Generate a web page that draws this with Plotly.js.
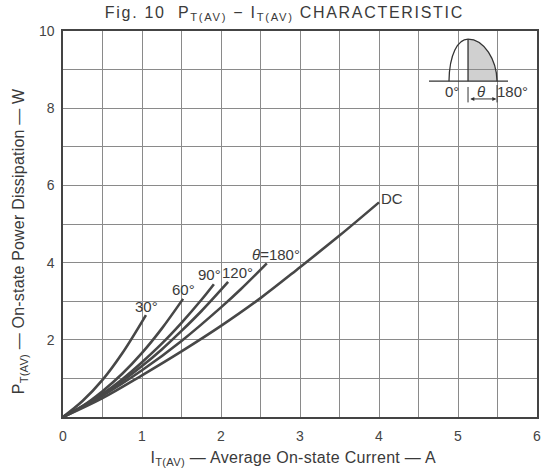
<!DOCTYPE html>
<html>
<head>
<meta charset="utf-8">
<script src="https://cdn.plot.ly/plotly-3.0.1.min.js"></script>
<style>
html,body{margin:0;padding:0;background:#fff;}
#chart{width:546px;height:474px;}
g.annotation[data-index="0"] text{letter-spacing:1.7px;}
g.annotation[data-index="1"] text{letter-spacing:0.3px;}
g.annotation[data-index="2"] text{letter-spacing:0.2px;}
</style>
</head>
<body>
<div id="chart"></div>
<script>
// ---- data ----
const seriesNames = ["30°", "60°", "90°", "120°", "θ=180°", "DC"];

const current_30  = [0, 0.25, 0.5, 0.75, 1.05];
const power_30    = [0, 0.42, 0.96, 1.65, 2.64];

const current_60  = [0, 0.25, 0.5, 0.75, 1.0, 1.25, 1.52];
const power_60    = [0, 0.29, 0.67, 1.12, 1.66, 2.29, 3.06];

const current_90  = [0, 0.25, 0.5, 0.75, 1.0, 1.25, 1.5, 1.75, 1.91];
const power_90    = [0, 0.28, 0.60, 0.98, 1.42, 1.90, 2.44, 3.03, 3.44];

const current_120 = [0, 0.25, 0.5, 0.75, 1.0, 1.25, 1.5, 1.75, 2.09];
const power_120   = [0, 0.27, 0.58, 0.93, 1.32, 1.75, 2.23, 2.74, 3.50];

const current_180 = [0, 0.5, 1.0, 1.5, 2.0, 2.25, 2.58];
const power_180   = [0, 0.55, 1.21, 1.97, 2.84, 3.31, 3.98];

const current_dc  = [0, 0.5, 1.0, 1.5, 2.0, 2.5, 3.0, 3.5, 4.0];
const power_dc    = [0, 0.49, 1.08, 1.70, 2.36, 3.08, 3.88, 4.70, 5.56];

const xTickVals = [0, 1, 2, 3, 4, 5, 6];
const xTickText = ["0", "1", "2", "3", "4", "5", "6"];
const yTickVals = [2, 4, 6, 8, 10];
const yTickText = ["2", "4", "6", "8", "10"];

// ---- chart ----
const lineColor = "#474747";
const xs = [current_30, current_60, current_90, current_120, current_180, current_dc];
const ys = [power_30, power_60, power_90, power_120, power_180, power_dc];

const traces = xs.map((x, i) => ({
  x: x, y: ys[i], type: "scatter", mode: "lines",
  name: seriesNames[i],
  line: {color: lineColor, width: 2.6, shape: "spline", smoothing: 1},
  hoverinfo: "x+y+name"
}));

const FONT = "Liberation Sans, Arial, Helvetica, sans-serif";
const txtColor = "#3a3a3a";

function label(text, x, y, opts) {
  return Object.assign({
    text: text, x: x, y: y, xref: "x", yref: "y", showarrow: false,
    font: {family: FONT, size: 15, color: txtColor},
    xanchor: "center", yanchor: "middle"
  }, opts || {});
}

const annotations = [
  // title
  {text: "Fig. 10  P<sub>T(AV)</sub> − I<sub>T(AV)</sub> CHARACTERISTIC",
   xref: "paper", yref: "paper", x: 0.468, y: 1.045, showarrow: false,
   xanchor: "center", yanchor: "middle",
   font: {family: FONT, size: 16, color: txtColor}},
  // axis titles
  {text: "I<sub>T(AV)</sub> — Average On-state Current — A",
   xref: "paper", yref: "paper", x: 0.487, y: -0.108, showarrow: false,
   xanchor: "center", yanchor: "middle",
   font: {family: FONT, size: 16, color: txtColor}},
  {text: "P<sub>T(AV)</sub> — On-state Power Dissipation — W",
   xref: "paper", yref: "paper", x: -0.090, y: 0.456, showarrow: false,
   xanchor: "center", yanchor: "middle", textangle: -90,
   font: {family: FONT, size: 16, color: txtColor}},
  // curve labels
  label(seriesNames[0], 1.06, 2.87),
  label(seriesNames[1], 1.53, 3.30),
  label(seriesNames[2], 1.86, 3.68),
  label(seriesNames[3], 2.21, 3.75),
  label("<i>θ</i>=180°", 2.69, 4.20),
  label(seriesNames[5], 4.17, 5.65),
  // inset labels
  label("0°", 4.93, 8.42),
  label("<i>θ</i>", 5.29, 8.42),
  label("180°", 5.69, 8.42),
  // inset arrow
  {x: 5.485, y: 8.24, ax: 5.137, ay: 8.24, xref: "x", yref: "y", axref: "x", ayref: "y",
   text: "", showarrow: true, arrowhead: 2, arrowside: "end+start", arrowsize: 0.8,
   arrowwidth: 1, arrowcolor: "#333", standoff: 0, startstandoff: 0}
];

const shapes = [
  // shaded part of the inset wave
  {type: "path", xref: "x", yref: "y",
   path: "M 5.127,8.70 L 5.127,9.79 C 5.33,9.79 5.49,9.25 5.494,8.70 Z",
   fillcolor: "#d0d0d0", line: {width: 0}, layer: "below"},
  // wave outline
  {type: "path", xref: "x", yref: "y",
   path: "M 4.886,8.70 C 4.89,9.40 5.00,9.79 5.127,9.79 C 5.33,9.79 5.49,9.25 5.494,8.70",
   line: {color: "#333", width: 1.3}},
  // vertical divider
  {type: "line", xref: "x", yref: "y", x0: 5.127, x1: 5.127, y0: 8.70, y1: 9.79,
   line: {color: "#333", width: 1.3}},
  // baseline
  {type: "line", xref: "x", yref: "y", x0: 4.633, x1: 5.633, y0: 8.70, y1: 8.70,
   line: {color: "#333", width: 1.3}},
  // tick marks of the angle span
  {type: "line", xref: "x", yref: "y", x0: 5.127, x1: 5.127, y0: 8.55, y1: 8.15,
   line: {color: "#333", width: 1}},
  {type: "line", xref: "x", yref: "y", x0: 5.494, x1: 5.494, y0: 8.60, y1: 8.15,
   line: {color: "#333", width: 1}}
];

const layout = {
  width: 546, height: 474,
  margin: {l: 63, r: 9, t: 31, b: 57, pad: 0},
  paper_bgcolor: "#ffffff", plot_bgcolor: "#ffffff",
  showlegend: false,
  font: {family: FONT, size: 14, color: txtColor},
  xaxis: {
    range: [0, 6], tickvals: xTickVals, ticktext: xTickText,
    showgrid: true, gridcolor: "#8a8a8a", gridwidth: 1,
    minor: {dtick: 0.5, tick0: 0, showgrid: true, gridcolor: "#8a8a8a", gridwidth: 1, ticks: ""},
    zeroline: false, showline: true, mirror: true, linecolor: "#444", linewidth: 1.6,
    ticks: "", ticklabelstandoff: 6, tickfont: {family: FONT, size: 14, color: "#444"},
    fixedrange: true
  },
  yaxis: {
    range: [0, 10], tickvals: yTickVals, ticktext: yTickText,
    showgrid: true, gridcolor: "#8a8a8a", gridwidth: 1,
    minor: {dtick: 1, tick0: 0, showgrid: true, gridcolor: "#8a8a8a", gridwidth: 1, ticks: ""},
    zeroline: false, showline: true, mirror: true, linecolor: "#444", linewidth: 1.6,
    ticks: "", ticklabelstandoff: 4, tickfont: {family: FONT, size: 14, color: "#444"},
    fixedrange: true
  },
  annotations: annotations,
  shapes: shapes
};

Plotly.newPlot("chart", traces, layout, {displayModeBar: false, staticPlot: true});
</script>
</body>
</html>
